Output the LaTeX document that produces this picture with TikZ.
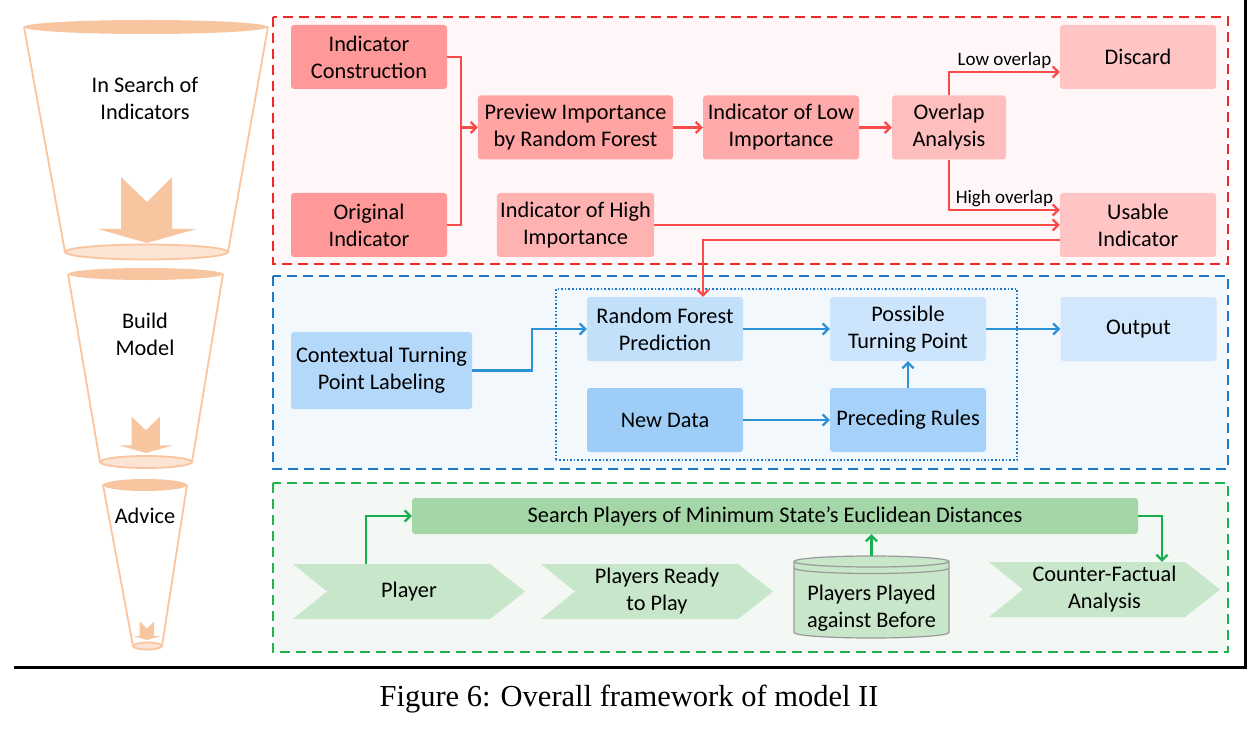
\documentclass[tikz,border=0pt]{standalone}
\usepackage{fontspec}
\setmainfont{Carlito}
\newfontfamily\capfont{Liberation Serif}
\usetikzlibrary{arrows.meta,fit}

\definecolor{linered}{RGB}{250,75,75}
\definecolor{lineblue}{RGB}{45,145,215}
\definecolor{linegreen}{RGB}{25,175,80}
\definecolor{dashred}{RGB}{240,40,40}
\definecolor{dashblue}{RGB}{30,120,200}
\definecolor{dashgreen}{RGB}{30,180,80}
\definecolor{regred}{RGB}{255,247,247}
\definecolor{regblue}{RGB}{243,248,253}
\definecolor{reggreen}{RGB}{243,248,244}
\definecolor{redA}{RGB}{255,153,153}
\definecolor{redB}{RGB}{255,163,163}
\definecolor{redC}{RGB}{255,170,170}
\definecolor{redD}{RGB}{255,178,178}
\definecolor{redE}{RGB}{255,190,190}
\definecolor{redF}{RGB}{255,197,197}
\definecolor{blueA}{RGB}{180,216,250}
\definecolor{blueB}{RGB}{195,224,251}
\definecolor{blueC}{RGB}{158,206,248}
\definecolor{blueD}{RGB}{205,229,252}
\definecolor{blueE}{RGB}{166,210,249}
\definecolor{blueF}{RGB}{210,231,252}
\definecolor{greenbar}{RGB}{164,214,168}
\definecolor{chevgreen}{RGB}{200,230,202}
\definecolor{funnelline}{RGB}{249,196,158}
\definecolor{funneltop}{RGB}{247,197,160}
\definecolor{funnelbottom}{RGB}{252,228,212}

\begin{document}
\begin{tikzpicture}[
x=1pt, y=-1pt,
every node/.style={
align=center,
font=\fontsize{22.3}{27}\selectfont
},
>={Straight Barb[length=5.5pt,width=11pt]},
redarrow/.style={->, line width=2.3pt, draw=linered},
bluearrow/.style={->, line width=2.3pt, draw=lineblue},
greenarrow/.style={->, line width=2.3pt, draw=linegreen}
]

% =====================================================
% Styles
% =====================================================

\tikzstyle{region} =
[dash pattern=on 10pt off 6pt,
line width=2pt]

\tikzstyle{box} =
[rectangle, rounded corners=3pt,
minimum width=156,
minimum height=64]

\tikzstyle{lbl} =
[font=\fontsize{19}{22}\selectfont,
inner sep=2pt]

\tikzstyle{chevron} =
[minimum width=232,
minimum height=55,
fill=reggreen,
path picture={
\fill[chevgreen] (path picture bounding box.north west)
-- ([xshift=-35pt]path picture bounding box.north east)
-- (path picture bounding box.east)
-- ([xshift=-35pt]path picture bounding box.south east)
-- (path picture bounding box.south west)
-- ([xshift=34pt]path picture bounding box.west) -- cycle;}]

\tikzstyle{funnel} =
[draw=funnelline, line width=1.8pt]

\tikzstyle{funnelarrow} =
[fill=funneltop]

\useasboundingbox (0,0) rectangle (1260,743);

% =====================================================
% Funnel
% =====================================================

\draw [funnel] (24,27) -- (65,252) (268,27) -- (228,252);
\fill [funneltop] (146,27) ellipse [x radius=122pt, y radius=7pt];
\draw [funnel, fill=funnelbottom] (146.5,252) ellipse [x radius=81.5pt, y radius=7.5pt];
\fill [funnelarrow, shift={(147,243)}]
(-26,-66) -- (0,-41) -- (25,-66) -- (25,-14) -- (49,-14)
-- (0,0) -- (-49,-14) -- (-26,-14) -- cycle;

\draw [funnel] (68,274) -- (100,462) (223,274) -- (192,462);
\fill [funneltop] (145.5,274) ellipse [x radius=77.5pt, y radius=6pt];
\draw [funnel, fill=funnelbottom] (146,462) ellipse [x radius=46pt, y radius=6pt];
\fill [funnelarrow, shift={(146,453)}, scale=0.55]
(-26,-66) -- (0,-41) -- (25,-66) -- (25,-14) -- (49,-14)
-- (0,0) -- (-49,-14) -- (-26,-14) -- cycle;

\draw [funnel] (103,485) -- (133,646) (187,485) -- (162,646);
\fill [funneltop] (145,485) ellipse [x radius=42pt, y radius=6pt];
\draw [funnel, fill=funnelbottom] (147.5,646) ellipse [x radius=14.5pt, y radius=3.5pt];
\fill [funnelarrow, shift={(147,640)}, scale=0.28]
(-26,-66) -- (0,-41) -- (25,-66) -- (25,-14) -- (49,-14)
-- (0,0) -- (-49,-14) -- (-26,-14) -- cycle;

\node (stage1) at (145,98) {In Search of\\Indicators};
\node (stage2) at (145,334) {Build\\Model};
\node (stage3) at (145,516) {Advice};

% =====================================================
% Regions
% =====================================================

\draw [region, draw=dashred, fill=regred] (273,17) rectangle (1228,264);
\draw [region, draw=dashblue, fill=regblue] (273,276) rectangle (1228,469);
\draw [region, draw=dashgreen, fill=reggreen] (273,483) rectangle (1228,652);

% =====================================================
% Nodes
% =====================================================

\node (constr) [box, fill=redA] at (369,57)
{Indicator\\Construction};

\node (orig) [box, fill=redA] at (369,225)
{Original\\Indicator};

\node (preview) [box, fill=redB, minimum width=195] at (575.5,127.5)
{Preview Importance\\by Random Forest};

\node (high) [box, fill=redD] at (575.5,225)
{Indicator of High\\Importance};

\node (low) [box, fill=redC] at (781,127.5)
{Indicator of Low\\Importance};

\node (overlap) [box, fill=redE, minimum width=114] at (949,127.5)
{Overlap\\Analysis};

\node (discard) [box, fill=redF] at (1138,57)
{Discard};

\node (usable) [box, fill=redF] at (1138,225)
{Usable\\Indicator};

\node (ctx) [box, fill=blueA, minimum width=181, minimum height=77] at (381.5,370.5)
{Contextual Turning\\Point Labeling};

\node (rfp) [box, fill=blueB] at (665,329)
{Random Forest\\Prediction};

\node (newdata) [box, fill=blueC] at (665,420)
{New Data};

\node (possible) [box, fill=blueD] at (908,329)
{Possible\\Turning Point};

\node (rules) [box, fill=blueE] at (908,420)
{Preceding Rules};

\node (output) [box, fill=blueF] at (1138.5,329)
{Output};

\node (predict) [draw=dashblue, dotted, line width=1.6pt,
fit=(rfp)(rules), inner xsep=31pt, inner ysep=8pt] {};

\node (search) [box, fill=greenbar, minimum width=726, minimum height=36] at (775,516)
{Search Players of Minimum State’s Euclidean Distances};

\node (player) [chevron] at (409,591.5)
{Player};

\node (ready) [chevron] at (657,591.5)
{Players Ready\\to Play};

\node (cf) [chevron, minimum width=231] at (1104.5,589.5)
{Counter-Factual\\Analysis};

\coordinate (dbtop) at (871.5,556);
\path [fill=chevgreen, draw=gray!80, line width=1.2pt]
(794,561.5) -- (794,632.5) arc [start angle=180, end angle=360, x radius=77.5pt, y radius=5.5pt]
-- (949,561.5) arc [start angle=0, end angle=180, x radius=77.5pt, y radius=5.5pt] -- cycle;
\draw [draw=gray!80, line width=1.2pt] (794,561.5) arc [start angle=180, end angle=360, x radius=77.5pt, y radius=5.5pt];
\draw [draw=gray!80, line width=1.2pt] (794,568) arc [start angle=180, end angle=360, x radius=77.5pt, y radius=5.5pt];

\node (db) at (871.5,608)
{Players Played\\against Before};

% =====================================================
% Arrows
% =====================================================

\coordinate (merge) at (461,127.5);

\draw [redarrow, -] (constr.east) -| (merge) |- (orig.east);

\draw [redarrow] (merge) -- (preview.west);

\draw [redarrow] (preview.east) -- (low.west);

\draw [redarrow] (low.east) -- (overlap.west);

\draw [redarrow] (overlap.north) |- node [lbl, above, pos=0.75] {Low overlap} ([yshift=-15pt]discard.west);

\draw [redarrow] (overlap.south) |- node [lbl, above, pos=0.75] {High overlap} ([yshift=15pt]usable.west);

\draw [redarrow] (high.east) -- (usable.west);

\draw [redarrow] ([yshift=-15pt]usable.west) -| ([xshift=38pt]rfp.north);

\draw [bluearrow] (ctx.east) -- ++(60,0) |- (rfp.west);

\draw [bluearrow] (rfp.east) -- (possible.west);

\draw [bluearrow] (newdata.east) -- (rules.west);

\draw [bluearrow] (rules.north) -- (possible.south);

\draw [bluearrow] (possible.east) -- (output.west);

\draw [greenarrow] ([xshift=-43pt]player.north) |- (search.west);

\draw [greenarrow] (dbtop) -- (dbtop |- search.south);

\draw [greenarrow] (search.east) -| ([xshift=57.5pt]cf.north);

% =====================================================
% Frame and caption
% =====================================================

\draw [line width=3pt] (1245,0) -- (1245,667) -- (14,667);

\node (caption) [font=\capfont\fontsize{30.5}{36}\selectfont] at (629,699)
{Figure 6: Overall framework of model II};

\end{tikzpicture}
\end{document}
